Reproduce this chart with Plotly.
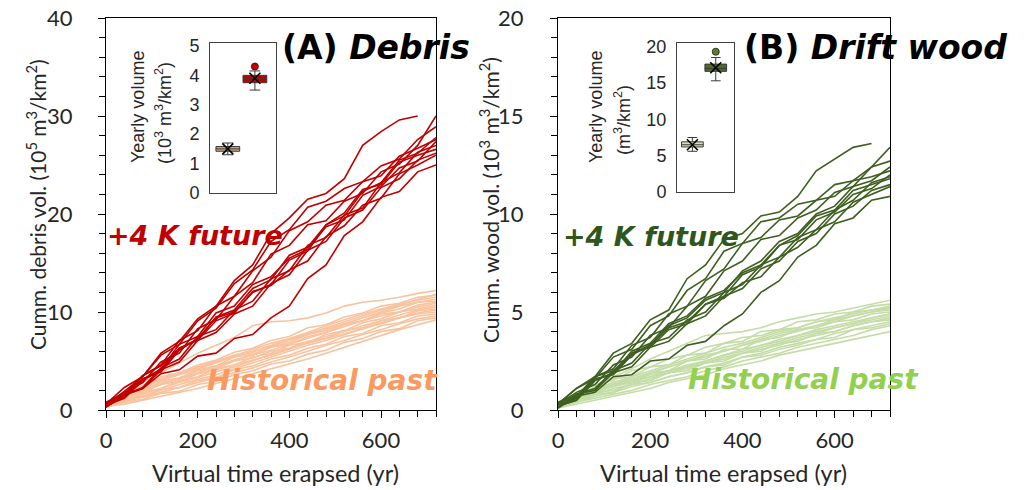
import plotly.graph_objects as go

# ---------------- data ----------------
T = [0, 40, 80, 120, 160, 200, 240, 280, 320, 360, 400, 440, 480, 520, 560, 600, 640, 680, 720]

debris_future = [
    [0.5, 1.9, 3.4, 5.8, 7.0, 9.3, 10.6, 13.2, 14.8, 18.0, 19.6, 21.5, 22.1, 23.6, 27.0, 28.4, 29.6, 30.0, None],
    [0.6, 2.3, 3.4, 5.6, 6.7, 9.1, 10.4, 12.9, 14.3, 17.2, 18.4, 20.7, 21.3, 22.6, 23.3, 24.9, 25.6, 27.6, 28.9],
    [0.4, 1.3, 3.5, 4.6, 7.1, 8.1, 10.6, 11.6, 14.2, 15.6, 18.3, 19.2, 20.9, 21.4, 23.3, 23.9, 25.9, 26.7, 27.6],
    [0.7, 1.8, 2.8, 4.9, 5.8, 8.3, 9.2, 11.6, 13.0, 15.9, 16.8, 18.9, 19.3, 21.3, 22.1, 24.3, 25.1, 27.0, 30.0],
    [0.5, 1.2, 3.0, 4.1, 6.3, 7.2, 9.5, 10.2, 12.4, 13.3, 15.8, 16.6, 18.9, 19.8, 22.3, 23.2, 25.5, 26.2, 27.8],
    [0.3, 1.5, 2.3, 4.3, 5.2, 7.5, 8.2, 10.2, 11.1, 13.4, 14.2, 16.8, 17.6, 19.9, 20.6, 23.2, 24.2, 26.3, 27.0],
    [0.6, 1.4, 3.2, 3.9, 6.1, 7.3, 9.4, 10.0, 12.0, 12.8, 15.3, 16.2, 18.9, 20.1, 22.5, 23.0, 25.3, 26.0, 26.6],
    [0.4, 1.6, 2.2, 4.1, 4.9, 7.1, 7.9, 9.8, 10.6, 12.9, 13.8, 16.3, 17.2, 19.6, 20.4, 22.7, 23.6, 25.5, 26.2],
    [0.5, 1.3, 3.1, 4.2, 6.7, 7.5, 9.9, 10.6, 12.8, 13.6, 15.5, 16.4, 18.7, 19.4, 21.9, 22.8, 24.7, 25.4, 27.4],
    [0.8, 1.6, 3.5, 4.5, 6.3, 7.1, 9.1, 9.9, 12.1, 12.7, 14.3, 15.2, 17.7, 18.8, 20.9, 21.6, 24.1, 25.0, 26.0],
    [0.3, 1.5, 2.2, 3.7, 4.1, 5.5, 5.8, 7.3, 7.7, 9.4, 10.6, 13.4, 14.8, 17.8, 19.2, 21.7, 22.3, 24.3, 25.0],
]

debris_past = [
    [0.5, 1.7, 2.8, 3.8, 4.8, 5.8, 6.6, 7.4, 8.6, 9.0, 9.1, 9.4, 9.9, 10.6, 11.0, 11.2, 11.5, 11.9, 12.2],
    [0.6, 1.8, 2.5, 3.4, 3.8, 4.6, 5.1, 5.9, 6.3, 7.1, 7.5, 8.4, 8.7, 9.5, 9.9, 10.6, 10.9, 11.5, 11.7],
    [0.4, 1.2, 2.2, 3.0, 3.6, 4.2, 4.8, 5.5, 6.2, 6.8, 7.3, 7.9, 8.6, 9.2, 9.8, 10.3, 10.8, 11.2, 11.5],
    [0.7, 1.5, 2.4, 3.1, 3.7, 4.4, 5.0, 5.6, 6.0, 6.6, 7.2, 7.8, 8.3, 8.8, 9.4, 10.0, 10.6, 11.0, 11.3],
    [0.3, 1.1, 1.7, 2.7, 3.2, 4.0, 4.3, 5.1, 5.6, 6.4, 6.9, 7.7, 8.1, 8.8, 9.1, 9.9, 10.3, 11.0, 11.1],
    [0.5, 1.4, 2.0, 2.6, 3.2, 3.8, 4.5, 5.1, 5.6, 6.1, 6.7, 7.3, 7.9, 8.5, 9.1, 9.6, 10.0, 10.5, 10.9],
    [0.6, 1.0, 1.8, 2.2, 3.0, 3.4, 4.2, 4.6, 5.4, 5.8, 6.6, 6.9, 7.7, 8.1, 8.9, 9.3, 10.0, 10.3, 10.7],
    [0.4, 0.9, 1.6, 2.2, 2.8, 3.3, 3.9, 4.4, 5.0, 5.7, 6.3, 6.9, 7.5, 8.0, 8.6, 9.1, 9.7, 10.2, 10.5],
    [0.5, 1.3, 1.8, 2.6, 2.9, 3.7, 4.2, 5.0, 5.3, 6.0, 6.3, 7.0, 7.3, 8.1, 8.4, 9.1, 9.4, 10.1, 10.3],
    [0.3, 0.8, 1.4, 2.0, 2.6, 3.1, 3.6, 4.2, 4.8, 5.4, 6.0, 6.6, 7.1, 7.7, 8.3, 8.8, 9.4, 9.9, 10.2],
    [0.6, 1.3, 2.1, 2.7, 3.2, 3.7, 4.1, 4.6, 5.1, 5.6, 6.2, 6.8, 7.3, 7.8, 8.3, 8.9, 9.4, 9.8, 10.0],
    [0.4, 1.1, 1.4, 2.1, 2.3, 3.0, 3.3, 4.1, 4.5, 5.2, 5.6, 6.3, 6.7, 7.5, 7.8, 8.6, 8.9, 9.6, 9.8],
    [0.5, 0.9, 1.3, 1.8, 2.3, 2.8, 3.3, 3.8, 4.3, 4.9, 5.4, 6.0, 6.6, 7.1, 7.7, 8.2, 8.8, 9.3, 9.6],
    [0.3, 0.8, 1.1, 1.7, 1.9, 2.6, 2.9, 3.6, 4.0, 4.7, 5.0, 5.7, 6.1, 6.9, 7.3, 8.0, 8.3, 9.1, 9.4],
    [0.4, 0.6, 1.0, 1.4, 1.8, 2.2, 2.7, 3.2, 3.7, 4.2, 4.7, 5.2, 5.8, 6.4, 7.0, 7.6, 8.2, 8.7, 9.2],
    [0.7, 1.6, 2.5, 3.2, 3.8, 4.3, 4.9, 5.4, 5.9, 6.5, 7.1, 7.7, 8.4, 9.0, 9.6, 10.2, 10.7, 11.3, 11.8],
    [0.5, 1.4, 1.9, 2.9, 3.3, 4.1, 4.5, 5.4, 5.7, 6.4, 6.7, 7.5, 7.9, 8.7, 9.1, 9.8, 10.0, 10.7, 11.0],
]

wood_future = [
    [0.3, 1.1, 1.7, 2.9, 3.4, 4.6, 5.1, 6.7, 7.4, 8.7, 9.0, 9.9, 10.1, 10.9, 12.2, 12.8, 13.4, 13.6, None],
    [0.3, 1.1, 1.6, 2.7, 3.1, 4.3, 4.8, 6.1, 6.7, 8.1, 8.5, 9.6, 9.8, 10.5, 10.7, 11.5, 11.7, 12.4, 12.7],
    [0.2, 0.6, 1.7, 2.1, 3.3, 3.7, 4.9, 5.3, 6.6, 7.2, 8.5, 8.8, 9.7, 9.9, 10.7, 10.9, 11.7, 11.9, 12.2],
    [0.3, 0.9, 1.3, 2.3, 2.7, 3.8, 4.2, 5.3, 5.8, 7.1, 7.6, 8.7, 8.9, 9.8, 10.2, 11.1, 11.4, 12.4, 13.4],
    [0.2, 0.5, 1.5, 1.9, 2.9, 3.3, 4.3, 4.7, 5.6, 6.0, 7.1, 7.6, 8.6, 9.0, 10.0, 10.4, 11.4, 11.7, 12.4],
    [0.1, 0.8, 1.1, 2.0, 2.4, 3.4, 3.7, 4.6, 5.0, 6.0, 6.4, 7.4, 7.8, 8.8, 9.2, 10.2, 10.7, 11.6, 11.9],
    [0.3, 0.6, 1.6, 1.8, 2.8, 3.3, 4.2, 4.5, 5.4, 5.8, 6.9, 7.3, 8.4, 8.9, 9.9, 10.2, 11.2, 11.5, 11.8],
    [0.2, 0.8, 1.0, 1.9, 2.2, 3.2, 3.5, 4.4, 4.8, 5.8, 6.2, 7.2, 7.6, 8.6, 9.0, 10.0, 10.4, 11.2, 11.5],
    [0.2, 0.5, 1.5, 1.9, 3.0, 3.4, 4.4, 4.8, 5.7, 6.1, 7.0, 7.4, 8.4, 8.7, 9.7, 10.1, 11.0, 11.3, 12.0],
    [0.4, 0.7, 1.7, 2.0, 2.9, 3.2, 4.1, 4.4, 5.4, 5.7, 6.5, 6.8, 7.8, 8.3, 9.2, 9.6, 10.6, 11.0, 11.4],
    [0.1, 0.7, 0.9, 1.7, 1.8, 2.5, 2.6, 3.3, 3.5, 4.3, 4.9, 6.0, 6.6, 7.8, 8.4, 9.5, 9.8, 10.7, 10.9],
]

wood_past = [
    [0.2, 0.7, 1.2, 1.7, 2.1, 2.6, 3.0, 3.4, 3.8, 3.9, 4.0, 4.2, 4.5, 4.7, 4.9, 5.0, 5.2, 5.4, 5.6],
    [0.3, 0.8, 1.1, 1.6, 1.7, 2.2, 2.3, 2.8, 2.9, 3.4, 3.5, 4.0, 4.1, 4.5, 4.6, 4.9, 5.0, 5.3, 5.4],
    [0.2, 0.6, 1.0, 1.4, 1.7, 2.0, 2.3, 2.6, 2.9, 3.2, 3.4, 3.7, 4.0, 4.2, 4.5, 4.7, 4.9, 5.1, 5.2],
    [0.4, 0.7, 1.1, 1.4, 1.6, 1.9, 2.2, 2.5, 2.7, 3.0, 3.3, 3.5, 3.8, 4.0, 4.3, 4.5, 4.8, 5.0, 5.1],
    [0.1, 0.6, 0.8, 1.3, 1.4, 1.9, 2.0, 2.5, 2.6, 3.1, 3.1, 3.6, 3.7, 4.1, 4.2, 4.5, 4.6, 4.9, 5.0],
    [0.3, 0.6, 0.9, 1.2, 1.5, 1.7, 2.0, 2.3, 2.5, 2.8, 3.1, 3.3, 3.6, 3.8, 4.1, 4.3, 4.5, 4.7, 4.9],
    [0.2, 0.5, 0.8, 1.1, 1.3, 1.6, 1.9, 2.1, 2.4, 2.7, 2.9, 3.2, 3.4, 3.7, 3.9, 4.2, 4.4, 4.6, 4.8],
    [0.3, 0.4, 0.8, 0.9, 1.4, 1.5, 1.9, 2.0, 2.4, 2.5, 2.9, 3.0, 3.4, 3.5, 3.9, 4.0, 4.3, 4.5, 4.7],
    [0.2, 0.6, 1.0, 1.3, 1.5, 1.8, 2.0, 2.2, 2.4, 2.6, 2.9, 3.1, 3.3, 3.6, 3.8, 4.0, 4.3, 4.5, 4.6],
    [0.1, 0.4, 0.7, 0.9, 1.2, 1.4, 1.7, 1.9, 2.2, 2.4, 2.7, 2.9, 3.2, 3.4, 3.6, 3.9, 4.1, 4.3, 4.5],
    [0.3, 0.5, 0.9, 1.0, 1.3, 1.4, 1.7, 1.9, 2.2, 2.3, 2.7, 2.8, 3.1, 3.3, 3.6, 3.7, 4.1, 4.2, 4.4],
    [0.2, 0.4, 0.6, 0.8, 1.0, 1.3, 1.5, 1.7, 2.0, 2.2, 2.5, 2.7, 2.9, 3.2, 3.4, 3.6, 3.8, 4.1, 4.3],
    [0.1, 0.3, 0.5, 0.7, 0.9, 1.1, 1.4, 1.6, 1.8, 2.1, 2.3, 2.5, 2.8, 3.0, 3.2, 3.4, 3.6, 3.8, 4.0],
    [0.4, 0.8, 1.3, 1.5, 2.0, 2.2, 2.6, 2.8, 3.2, 3.4, 3.7, 3.8, 4.1, 4.2, 4.5, 4.6, 5.0, 5.1, 5.3],
    [0.2, 0.5, 0.9, 1.3, 1.6, 1.9, 2.2, 2.5, 2.8, 3.0, 3.3, 3.6, 3.9, 4.1, 4.3, 4.6, 4.8, 5.0, 5.2],
    [0.3, 0.6, 1.0, 1.2, 1.4, 1.7, 1.9, 2.2, 2.5, 2.8, 3.0, 3.3, 3.5, 3.8, 4.0, 4.2, 4.4, 4.7, 4.9],
]

# inset box statistics: [historical, future]
box_pos = [0.27, 0.68]
debris_lower = [1.30, 3.50]
debris_q1 = [1.42, 3.75]
debris_median = [1.50, 3.88]
debris_q3 = [1.58, 4.00]
debris_upper = [1.70, 4.15]
debris_mean = [1.50, 3.90]
debris_outlier = [4.30]

wood_lower = [5.6, 15.3]
wood_q1 = [6.2, 16.6]
wood_median = [6.5, 17.0]
wood_q3 = [6.9, 17.6]
wood_upper = [7.5, 18.5]
wood_mean = [6.5, 17.1]
wood_outlier = [19.3]

x_tick_vals = [0, 200, 400, 600]
debris_y_ticks = [0, 10, 20, 30, 40]
wood_y_ticks = [0, 5, 10, 15, 20]
inset_a_ticks = [0, 1, 2, 3, 4, 5]
inset_b_ticks = [0, 5, 10, 15, 20]

# ---------------- styling ----------------
RED = "#C00000"
PEACH = "#F8C39E"
DKGREEN = "#3E5F1F"
LTGREEN = "#C4DDA6"
W, H = 1024, 490


def px(x):
    return x / W


def py(y):
    return 1 - y / H


fig = go.Figure()

for vals in debris_past:
    fig.add_trace(go.Scatter(x=T, y=vals, mode="lines", line=dict(color=PEACH, width=1.6),
                             xaxis="x", yaxis="y", showlegend=False, hoverinfo="skip"))
for vals in debris_future:
    fig.add_trace(go.Scatter(x=T, y=vals, mode="lines", line=dict(color=RED, width=1.6),
                             xaxis="x", yaxis="y", showlegend=False, hoverinfo="skip"))
for vals in wood_past:
    fig.add_trace(go.Scatter(x=T, y=vals, mode="lines", line=dict(color=LTGREEN, width=1.6),
                             xaxis="x2", yaxis="y2", showlegend=False, hoverinfo="skip"))
for vals in wood_future:
    fig.add_trace(go.Scatter(x=T, y=vals, mode="lines", line=dict(color=DKGREEN, width=1.6),
                             xaxis="x2", yaxis="y2", showlegend=False, hoverinfo="skip"))

# inset boxes
debris_fill = ["#CFA878", "#C00000"]
wood_fill = ["#D6E3AE", "#4F6A2A"]
for i in range(2):
    fig.add_trace(go.Box(x=[box_pos[i]], q1=[debris_q1[i]], median=[debris_median[i]], q3=[debris_q3[i]],
                         lowerfence=[debris_lower[i]], upperfence=[debris_upper[i]], width=0.36,
                         whiskerwidth=0.45, fillcolor=debris_fill[i], line=dict(color="#3a3a3a", width=1),
                         xaxis="x3", yaxis="y3", showlegend=False, hoverinfo="skip"))
    fig.add_trace(go.Box(x=[box_pos[i]], q1=[wood_q1[i]], median=[wood_median[i]], q3=[wood_q3[i]],
                         lowerfence=[wood_lower[i]], upperfence=[wood_upper[i]], width=0.38,
                         whiskerwidth=0.45, fillcolor=wood_fill[i], line=dict(color="#3a3a3a", width=1),
                         xaxis="x4", yaxis="y4", showlegend=False, hoverinfo="skip"))

fig.add_trace(go.Scatter(x=box_pos, y=debris_mean, mode="markers",
                         marker=dict(symbol="x-thin-open", size=11, color="black",
                                     line=dict(color="black", width=1.6)),
                         xaxis="x3", yaxis="y3", showlegend=False, hoverinfo="skip"))
fig.add_trace(go.Scatter(x=[box_pos[1]], y=debris_outlier, mode="markers",
                         marker=dict(symbol="circle", size=7, color=RED, line=dict(color="#5a1010", width=1)),
                         xaxis="x3", yaxis="y3", showlegend=False, hoverinfo="skip"))
fig.add_trace(go.Scatter(x=box_pos, y=wood_mean, mode="markers",
                         marker=dict(symbol="x-thin-open", size=11, color="black",
                                     line=dict(color="black", width=1.6)),
                         xaxis="x4", yaxis="y4", showlegend=False, hoverinfo="skip"))
fig.add_trace(go.Scatter(x=[box_pos[1]], y=wood_outlier, mode="markers",
                         marker=dict(symbol="circle", size=7, color="#5F7A36", line=dict(color="#2a3a12", width=1)),
                         xaxis="x4", yaxis="y4", showlegend=False, hoverinfo="skip"))

TICKFONT = dict(family="Lato, Open Sans, sans-serif", size=22, color="#262626")
INSETFONT = dict(family="Liberation Sans, Arial, sans-serif", size=18, color="#262626")

main_axis = dict(showline=True, linecolor="black", linewidth=1.3, mirror=True, showgrid=False,
                 zeroline=False, ticks="outside", tickcolor="black", ticklen=7, tickwidth=1.2,
                 tickfont=TICKFONT, automargin=False)
inset_axis = dict(showline=True, mirror=True, linecolor="#404040", linewidth=1, ticks="",
                  showgrid=False, zeroline=False, automargin=False)

fig.update_layout(
    width=W, height=H, margin=dict(l=0, r=0, t=0, b=0, autoexpand=False),
    paper_bgcolor="white", plot_bgcolor="white", showlegend=False,
    xaxis=dict(main_axis, domain=[px(106), px(436)], range=[0, 720], anchor="y",
               tickvals=x_tick_vals, ticklabelstandoff=3,
               minor=dict(tickvals=T, ticks="outside", ticklen=6, tickcolor="black", tickwidth=1.2)),
    yaxis=dict(main_axis, domain=[py(410), py(18)], range=[0, 40], anchor="x",
               tickvals=debris_y_ticks, ticklabelstandoff=21,
               minor=dict(tickvals=list(range(0, 41, 2)), ticks="outside", ticklen=6, tickcolor="black",
                          tickwidth=1.2)),
    xaxis2=dict(main_axis, domain=[px(558), px(890)], range=[0, 720], anchor="y2",
                tickvals=x_tick_vals, ticklabelstandoff=3,
                minor=dict(tickvals=T, ticks="outside", ticklen=6, tickcolor="black", tickwidth=1.2)),
    yaxis2=dict(main_axis, domain=[py(410), py(18)], range=[0, 20], anchor="x2",
                tickvals=wood_y_ticks, ticklabelstandoff=22,
                minor=dict(tickvals=list(range(0, 21, 1)), ticks="outside", ticklen=6, tickcolor="black",
                           tickwidth=1.2)),
    xaxis3=dict(inset_axis, domain=[px(210), px(276)], range=[0, 1], anchor="y3", showticklabels=False),
    yaxis3=dict(inset_axis, domain=[py(193), py(43)], range=[0, 5.1], anchor="x3",
                tickvals=inset_a_ticks, tickfont=INSETFONT, ticklabelstandoff=6),
    xaxis4=dict(inset_axis, domain=[px(677), px(734)], range=[0, 1], anchor="y4", showticklabels=False),
    yaxis4=dict(inset_axis, domain=[py(192), py(43)], range=[0, 20.5], anchor="x4",
                tickvals=inset_b_ticks, tickfont=INSETFONT, ticklabelstandoff=6),
)

AXTITLE = dict(family="Lato, Open Sans, sans-serif", size=21, color="#262626")
XTITLE = dict(family="Lato, Open Sans, sans-serif", size=23.5, color="#262626")
INSETTITLE = dict(family="Liberation Sans, Arial, sans-serif", size=18, color="#262626")
BIG = "DejaVu Sans, sans-serif"
ann = [
    dict(x=px(36), y=py(205), text="Cumm. debris vol. (10<sup>5</sup> m<sup>3</sup>/km<sup>2</sup>)",
         textangle=-90, font=AXTITLE),
    dict(x=px(489), y=py(200), text="Cumm. wood vol. (10<sup>3</sup> m<sup>3</sup>/km<sup>2</sup>)",
         textangle=-90, font=AXTITLE),
    dict(x=px(275), y=py(473), text="Virtual time erapsed (yr)", font=XTITLE),
    dict(x=px(723), y=py(473), text="Virtual time erapsed (yr)", font=XTITLE),
    dict(x=px(138), y=py(107), text="Yearly volume", textangle=-90, font=INSETTITLE),
    dict(x=px(163), y=py(113), text="(10<sup>3</sup> m<sup>3</sup>/km<sup>2</sup>)", textangle=-90, font=INSETTITLE),
    dict(x=px(596), y=py(107), text="Yearly volume", textangle=-90, font=INSETTITLE),
    dict(x=px(622), y=py(120), text="(m<sup>3</sup>/km<sup>2</sup>)", textangle=-90, font=INSETTITLE),
    dict(x=px(376), y=py(48), text="<b>(A) <i>Debris</i></b>", font=dict(family=BIG, size=33, color="black")),
    dict(x=px(875), y=py(48), text="<b>(B) <i>Drift wood</i></b>", font=dict(family=BIG, size=33, color="black")),
    dict(x=px(195), y=py(235), text="<b><i>+4 K future</i></b>", font=dict(family=BIG, size=27, color=RED)),
    dict(x=px(651), y=py(236), text="<b><i>+4 K future</i></b>", font=dict(family=BIG, size=27, color="#2F561B")),
    dict(x=px(322), y=py(380), text="<b><i>Historical past</i></b>", font=dict(family=BIG, size=28, color="#FA9A62")),
    dict(x=px(803), y=py(379), text="<b><i>Historical past</i></b>", font=dict(family=BIG, size=28, color="#92D050")),
]
for a in ann:
    a.update(xref="paper", yref="paper", showarrow=False, xanchor="center", yanchor="middle")
fig.update_layout(annotations=ann)

fig.write_html("out.html", config={"displayModeBar": False},
               post_script="document.body.style.margin='0';document.body.style.overflow='hidden';")
